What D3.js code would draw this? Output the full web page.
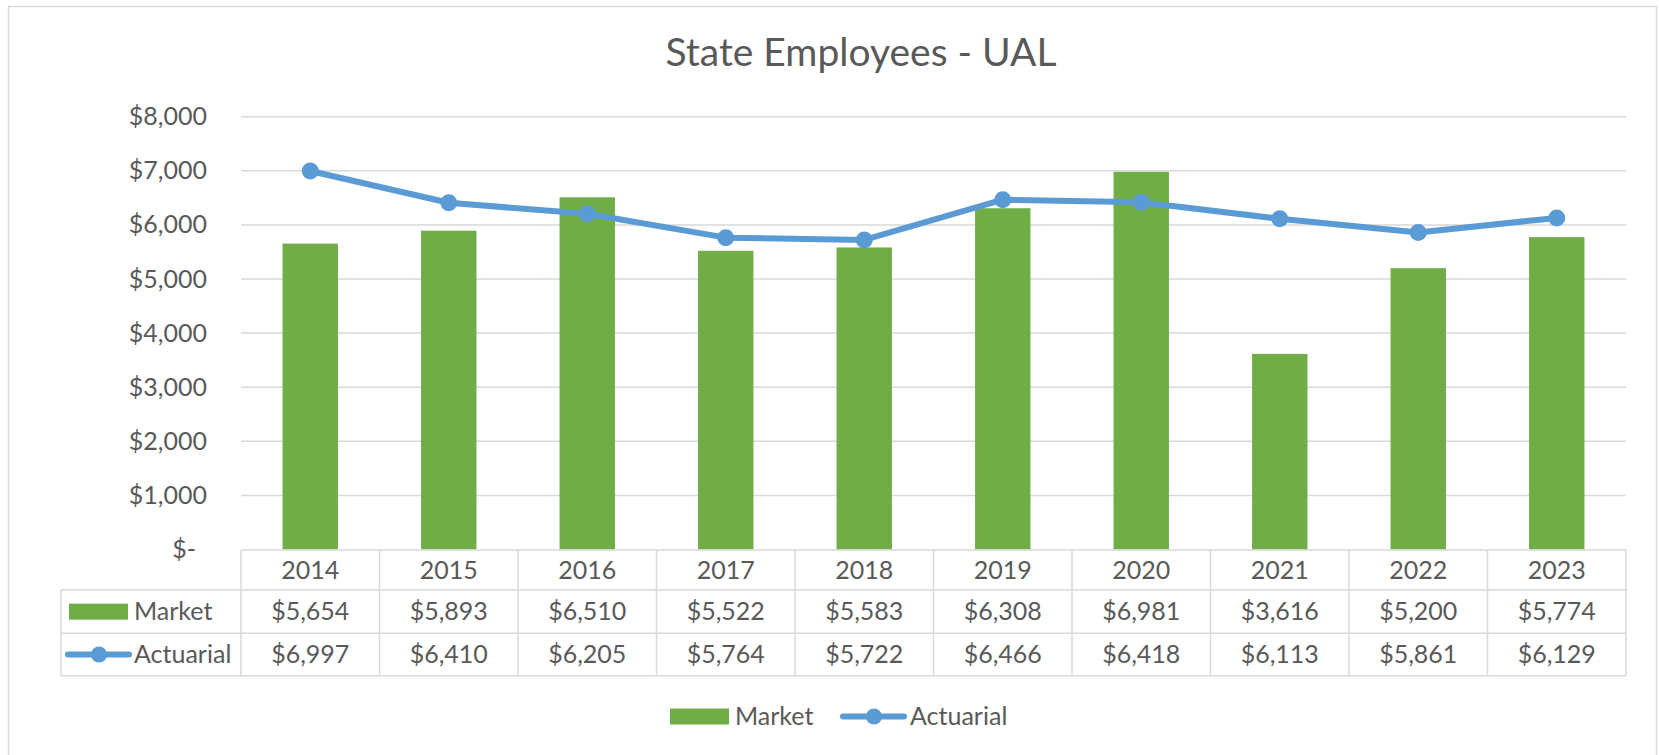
<!DOCTYPE html>
<html><head><meta charset="utf-8">
<script src="https://cdn.jsdelivr.net/npm/d3@7"></script>
<style>
html,body{margin:0;padding:0;background:#fff;}
svg text{font-family:Lato,"Open Sans",sans-serif;fill:#595959;}
</style></head>
<body>
<svg id="chart" width="1659" height="755"></svg>
<script>
const years = ["2014","2015","2016","2017","2018","2019","2020","2021","2022","2023"];
const market = [5654,5893,6510,5522,5583,6308,6981,3616,5200,5774];
const actuarial = [6997,6410,6205,5764,5722,6466,6418,6113,5861,6129];
const yTicks = [0,1000,2000,3000,4000,5000,6000,7000,8000];
const seriesNames = ["Market","Actuarial"];
const title = "State Employees - UAL";

(function(){
const GREEN = "#70ad47", BLUE = "#5b9bd5", GRID = "#d9d9d9";
const svg = d3.select("#chart");
const pLeft = 241, pRight = 1626, pTop = 116.7, pBottom = 549.5;
const fs = 25;

svg.append("rect").attr("x",8.5).attr("y",6.5).attr("width",1648).attr("height",760)
  .attr("fill","none").attr("stroke",GRID).attr("stroke-width",1.5);

svg.append("text").attr("x",861).attr("y",66).attr("text-anchor","middle")
  .style("font-size","39px").text(title);

const x = d3.scaleBand().domain(years).range([pLeft,pRight]).paddingInner(0.6).paddingOuter(0.3);
const step = x.step();
const cx = d => x(d) + x.bandwidth()/2;
const y = d3.scaleLinear().domain([0,8000]).range([pBottom,pTop]);

svg.append("g").selectAll("line").data(yTicks.filter(t=>t>0)).join("line")
  .attr("x1",pLeft).attr("x2",pRight).attr("y1",d=>y(d)).attr("y2",d=>y(d))
  .attr("stroke",GRID).attr("stroke-width",1.5);

const yAxis = d3.axisLeft(y).tickValues(yTicks).tickSize(0).tickPadding(0)
  .tickFormat(d => d===0 ? "$-" : "$" + d3.format(",")(d));
const ga = svg.append("g").attr("transform",`translate(207,0)`).call(yAxis);
ga.select(".domain").remove();
ga.selectAll("text").style("font-size",fs+"px").style("font-family","Lato").attr("fill","#595959")
  .attr("dx", d => d===0 ? -11 : 0);

svg.append("g").selectAll("rect").data(years).join("rect")
  .attr("x",d=>x(d)).attr("width",x.bandwidth())
  .attr("y",(d,i)=>y(market[i])).attr("height",(d,i)=>y(0)-y(market[i]))
  .attr("fill",GREEN);

const line = d3.line().x((d,i)=>cx(years[i])).y(d=>y(d));
svg.append("path").datum(actuarial).attr("d",line).attr("fill","none")
  .attr("stroke",BLUE).attr("stroke-width",6).attr("stroke-linejoin","round").attr("stroke-linecap","round");
svg.append("g").selectAll("circle").data(actuarial).join("circle")
  .attr("cx",(d,i)=>cx(years[i])).attr("cy",d=>y(d)).attr("r",8.5).attr("fill",BLUE);

const rowY = [550, 590, 633.3, 675.7];
const tLeft = 61;
const tg = svg.append("g").attr("stroke",GRID).attr("stroke-width",1.5);
tg.append("line").attr("x1",pLeft).attr("x2",pRight).attr("y1",rowY[0]).attr("y2",rowY[0]);
[1,2,3].forEach(k => tg.append("line").attr("x1",tLeft).attr("x2",pRight).attr("y1",rowY[k]).attr("y2",rowY[k]));
const colEdges = years.map(d => x(d) - step*0.3).concat([pRight]);
colEdges.forEach(v => tg.append("line").attr("x1",v).attr("x2",v).attr("y1",rowY[0]).attr("y2",rowY[3]));
tg.append("line").attr("x1",tLeft).attr("x2",tLeft).attr("y1",rowY[1]).attr("y2",rowY[3]);

const fmt = v => "$" + d3.format(",")(v);
const tt = svg.append("g").style("font-size",fs+"px");
tt.selectAll(".hdr").data(years).join("text").attr("class","hdr")
  .attr("x",d=>cx(d)).attr("y",(rowY[0]+rowY[1])/2).attr("dy","0.35em").attr("text-anchor","middle").text(d=>d);
tt.selectAll(".mk").data(market).join("text").attr("class","mk")
  .attr("x",(d,i)=>cx(years[i])).attr("y",(rowY[1]+rowY[2])/2).attr("dy","0.35em").attr("text-anchor","middle").text(fmt);
tt.selectAll(".ac").data(actuarial).join("text").attr("class","ac")
  .attr("x",(d,i)=>cx(years[i])).attr("y",(rowY[2]+rowY[3])/2).attr("dy","0.35em").attr("text-anchor","middle").text(fmt);

function barKey(x0, yc){
  svg.append("rect").attr("x",x0).attr("y",yc-8).attr("width",59).attr("height",16).attr("fill",GREEN);
}
function lineKey(x0, yc){
  svg.append("line").attr("x1",x0).attr("x2",x0+61).attr("y1",yc).attr("y2",yc)
    .attr("stroke",BLUE).attr("stroke-width",6).attr("stroke-linecap","round");
  svg.append("circle").attr("cx",x0+31).attr("cy",yc).attr("r",8).attr("fill",BLUE);
}
barKey(69, (rowY[1]+rowY[2])/2);
svg.append("text").attr("x",134).attr("y",(rowY[1]+rowY[2])/2).attr("dy","0.35em").style("font-size",fs+"px").text(seriesNames[0]);
lineKey(68, (rowY[2]+rowY[3])/2);
svg.append("text").attr("x",134).attr("y",(rowY[2]+rowY[3])/2).attr("dy","0.35em").style("font-size",fs+"px").text(seriesNames[1]);

const ly = 716.5;
barKey(670, ly);
svg.append("text").attr("x",735).attr("y",ly).attr("dy","0.35em").style("font-size",fs+"px").text(seriesNames[0]);
lineKey(843, ly);
svg.append("text").attr("x",910).attr("y",ly).attr("dy","0.35em").style("font-size",fs+"px").text(seriesNames[1]);
})();
</script>
</body></html>
